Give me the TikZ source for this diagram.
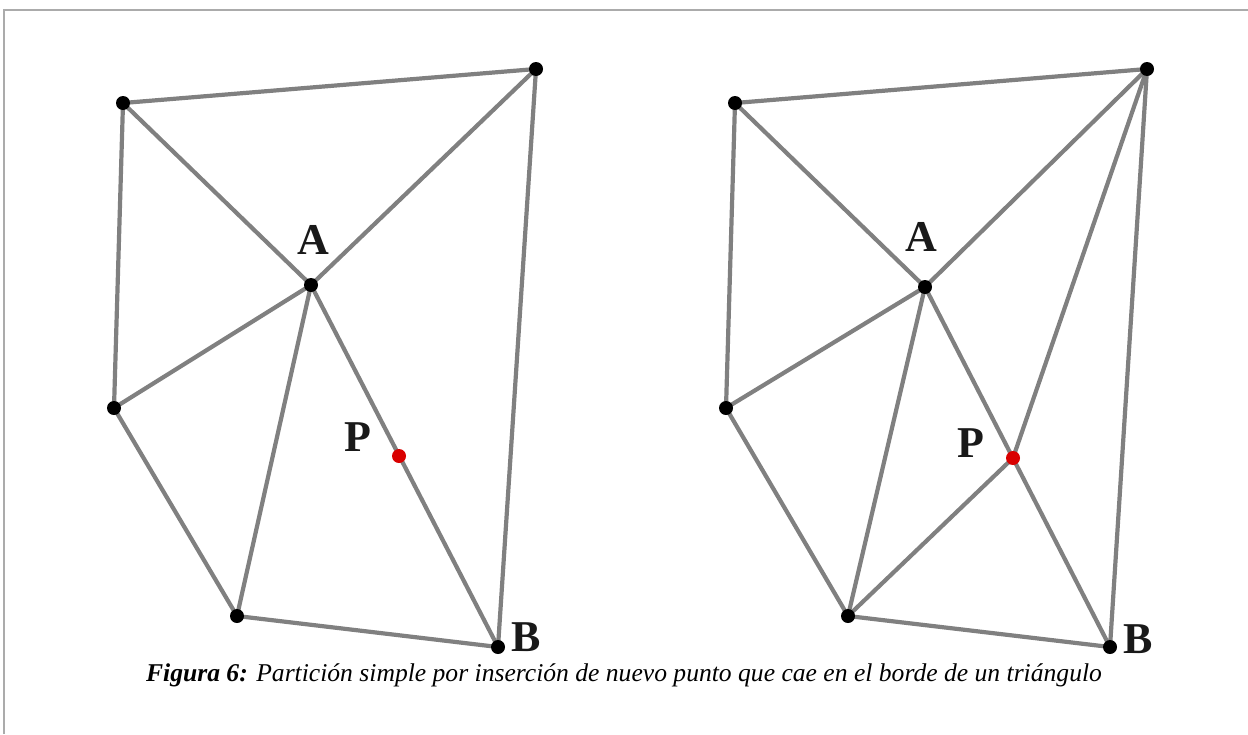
\documentclass[tikz,border=0pt]{standalone}
\usepackage{fontspec}
\setmainfont{Liberation Serif}
\begin{document}
\begin{tikzpicture}[x=1pt,y=-1pt,
  edge/.style={draw=black!50, line width=4.2pt},
  pt/.style={circle, fill=black, inner sep=0pt, minimum size=14pt},
  redpt/.style={circle, fill=red!85!black, inner sep=0pt, minimum size=14pt},
  lbl/.style={font=\fontsize{44}{44}\selectfont\bfseries, text=black!90, inner sep=0pt}]
\useasboundingbox (0,0) rectangle (1248,734);
\draw[black!33, line width=2pt] (4,734) -- (4,9.5) -- (1248,9.5);
% left figure
\coordinate (a1) at (123,103);
\coordinate (a2) at (536,69);
\coordinate (aA) at (311,285);
\coordinate (a3) at (114,408);
\coordinate (a4) at (237,616);
\coordinate (aB) at (498,647);
\coordinate (aP) at (399,456);
\draw[edge] (a1) -- (a2);
\draw[edge] (a1) -- (aA);
\draw[edge] (a1) -- (a3);
\draw[edge] (a2) -- (aA);
\draw[edge] (a2) -- (aB);
\draw[edge] (aA) -- (a3);
\draw[edge] (aA) -- (a4);
\draw[edge] (aA) -- (aB);
\draw[edge] (a3) -- (a4);
\draw[edge] (a4) -- (aB);
\foreach \p in {a1,a2,aA,a3,a4,aB} \node[pt] at (\p) {};
\node[redpt] at (aP) {};
\node[lbl] (la) at (313,240) {A};
\node[lbl] (lp) at (358,437) {P};
\node[lbl] (lb) at (526,637) {B};
% right figure
\coordinate (b1) at (735,103);
\coordinate (b2) at (1147,69);
\coordinate (bA) at (925,287);
\coordinate (b3) at (726,408);
\coordinate (b4) at (848,616);
\coordinate (bB) at (1110,647);
\coordinate (bP) at (1013,458);
\draw[edge] (b1) -- (b2);
\draw[edge] (b1) -- (bA);
\draw[edge] (b1) -- (b3);
\draw[edge] (b2) -- (bA);
\draw[edge] (b2) -- (bB);
\draw[edge] (b2) -- (bP);
\draw[edge] (bA) -- (b3);
\draw[edge] (bA) -- (b4);
\draw[edge] (bA) -- (bB);
\draw[edge] (b3) -- (b4);
\draw[edge] (b4) -- (bB);
\draw[edge] (b4) -- (bP);
\foreach \p in {b1,b2,bA,b3,b4,bB} \node[pt] at (\p) {};
\node[redpt] at (bP) {};
\node[lbl] (ra) at (921,237) {A};
\node[lbl] (rp) at (971,443) {P};
\node[lbl] (rb) at (1138,639) {B};
% caption
\node[anchor=base, inner sep=0pt, font=\fontsize{25.6}{25.6}\selectfont\itshape] (cap) at (624,681)
  {\textbf{Figura 6:} Partición simple por inserción de nuevo punto que cae en el borde de un triángulo};
\end{tikzpicture}
\end{document}
